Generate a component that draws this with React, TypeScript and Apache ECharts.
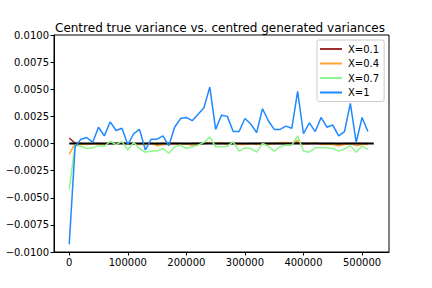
import React, { useEffect, useRef } from "react";
import * as echarts from "echarts";

const TITLE = "Centred true variance vs. centred generated variances";
const STEP = 10000;
const xTicks = [0, 100000, 200000, 300000, 400000, 500000];
const trueLine = [[0, 0], [520000, 0]];

const x01 = [0.0005, 0.00005, 0, -0.00005, 0, 0, -0.00005, 0, 0, 0.00005, 0, 0, -0.00005, 0, 0, -0.00005, 0, 0, 0, 0, -0.00005, 0, 0, 0, 0.00005, 0, 0, 0, 0, 0, -0.00005, 0, 0, 0, 0, 0, 0, 0, 0, 0.0001, 0, 0, 0, 0, 0, 0, -0.00005, 0, 0, 0, 0, 0];
const x04 = [-0.001, 0, -0.0001, -0.0001, 0, -0.0001, 0, 0.0001, -0.0001, 0.0001, -0.0001, 0, -0.0001, -0.0001, 0, -0.0002, -0.0001, -0.0001, 0, -0.0001, 0, -0.0002, -0.0001, 0, 0.0001, 0, 0.0001, -0.0001, 0.0001, -0.0001, -0.0001, 0, -0.0001, 0, -0.0001, 0, 0.0001, 0.0001, 0, 0.0003, -0.0001, 0, 0.0001, -0.0001, -0.0001, -0.0001, -0.0002, -0.0001, 0, -0.0002, -0.0001, -0.0001];
const x07 = [-0.00424, -0.00015, -0.00025, -0.00046, -0.0004, -0.0002, -0.00025, 0.0002, -0.0001, 0.0002, -0.0006, 0.0001, -0.00046, -0.0008, -0.0007, -0.0007, -0.00046, -0.0009, -0.0003, -0.00015, -0.00046, -0.0003, -0.00015, 0.0001, 0.0006, -0.0003, -0.0003, -0.00025, 0.00015, -0.0007, -0.0004, -0.00046, -0.0008, 0, -0.00025, -0.0007, -0.0003, -0.00015, -0.00015, 0.0007, -0.0007, -0.0008, -0.0004, -0.0004, -0.0004, -0.00046, -0.0007, -0.0005, -0.0002, -0.0008, -0.00025, -0.00055];
const x1 = [-0.00929, -0.0003, 0.0004, 0.00055, 0.0001, 0.0015, 0.0007, 0.002, 0.0012, 0.0014, -0.0001, 0.0009, 0.0013, -0.0006, 0.0004, 0.0004, 0.0007, -0.0002, 0.0015, 0.0023, 0.0024, 0.0021, 0.0027, 0.0033, 0.0052, 0.0013, 0.0026, 0.0025, 0.0011, 0.0011, 0.0023, 0.0018, 0.001, 0.0032, 0.0021, 0.0013, 0.0013, 0.0016, 0.0014, 0.0048, 0.0009, 0.0019, 0.0011, 0.0024, 0.0015, 0.0017, 0.0007, 0.0011, 0.0037, 0.0001, 0.0024, 0.0011];

const seriesDefs = [
  { name: "X=0.1", values: x01, color: "#9B2D2D" },
  { name: "X=0.4", values: x04, color: "#FFA534" },
  { name: "X=0.7", values: x07, color: "#8FF58F" },
  { name: "X=1", values: x1, color: "#1E88FF" },
];

const FONT = "DejaVu Sans";

export default function App() {
  const ref = useRef<HTMLDivElement>(null);
  useEffect(() => {
    document.body.style.margin = "0";
    const chart = echarts.init(ref.current!, null, { renderer: "svg" });
    const mk = (s: any) => ({
      name: s.name,
      type: "line",
      data: s.values.map((v: number, i: number) => [i * STEP, v]),
      showSymbol: false,
      symbol: "none",
      lineStyle: { color: s.color, width: 1.5 },
      itemStyle: { color: s.color },
      z: 3,
    });
    const series: any[] = [
      mk(seriesDefs[0]),
      mk(seriesDefs[1]),
      {
        name: "true",
        type: "line",
        data: trueLine,
        symbol: "none",
        lineStyle: { color: "#000", width: 2.2 },
        z: 3,
      },
      mk(seriesDefs[2]),
      mk(seriesDefs[3]),
    ];
    chart.setOption({
      animation: false,
      backgroundColor: "#fff",
      title: {
        text: TITLE,
        left: 50,
        top: 17,
        textStyle: { fontFamily: FONT, fontSize: 12, fontWeight: "normal", color: "#000" },
      },
      legend: {
        data: seriesDefs.map((s) => ({ name: s.name, icon: "rect" })),
        orient: "vertical",
        left: 317,
        top: 40,
        itemWidth: 22,
        itemHeight: 2,
        itemGap: 4.5,
        padding: [4, 5, 4, 3],
        backgroundColor: "rgba(255,255,255,0.8)",
        borderColor: "#ccc",
        borderWidth: 1,
        borderRadius: 2,
        textStyle: { fontFamily: FONT, fontSize: 10, color: "#000", padding: [0, 0, 0, 1] },
      },
      grid: {
        left: 54,
        right: 43,
        top: 35,
        bottom: 36,
        show: true,
        borderColor: "#000",
        borderWidth: 1,
        backgroundColor: "transparent",
      },
      xAxis: {
        type: "value",
        min: -26000,
        max: 546000,
        splitLine: { show: false },
        axisLine: { onZero: false, lineStyle: { color: "#000" } },
        axisTick: { show: true, length: 3.5, lineStyle: { color: "#000" }, customValues: xTicks },
        axisLabel: {
          customValues: xTicks,
          fontFamily: FONT,
          fontSize: 10,
          color: "#000",
          margin: 5,
          formatter: (v: number) => String(v),
        },
      },
      yAxis: {
        type: "value",
        min: -0.01,
        max: 0.01,
        interval: 0.0025,
        splitLine: { show: false },
        axisLine: { show: true, onZero: false, lineStyle: { color: "#000" } },
        axisTick: { show: true, length: 3.5, lineStyle: { color: "#000" } },
        axisLabel: {
          fontFamily: FONT,
          fontSize: 10,
          color: "#000",
          margin: 5,
          formatter: (v: number) => (v < -1e-12 ? "\u2212" : "") + Math.abs(v).toFixed(4),
        },
      },
      series,
    });
    return () => chart.dispose();
  }, []);
  return <div ref={ref} style={{ width: 432, height: 288 }} />;
}
